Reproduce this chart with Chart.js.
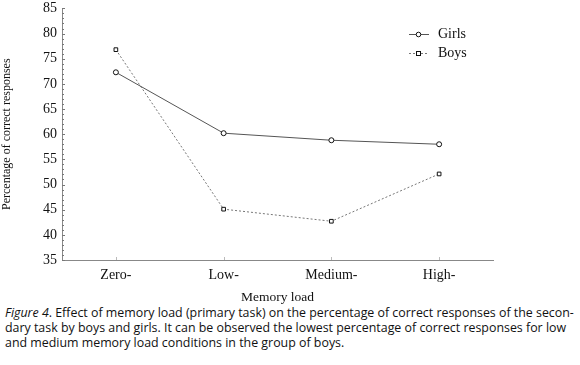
<!DOCTYPE html>
<html lang="en">
<head>
<meta charset="utf-8"/>
<title>Memory load chart</title>
<script src="https://cdn.jsdelivr.net/npm/chart.js"></script>
<style>
  body { margin: 0; background: #fff; }
  .wrap { position: relative; width: 580px; height: 311px; margin-top: -5px; }
  .caption {
    margin: -1px 0 0 5px;
    font-family: 'Open Sans', sans-serif;
    font-size: 12.4px;
    line-height: 15px;
    color: #111;
    white-space: nowrap;
  }
</style>
</head>
<body>
<div class="wrap"><canvas id="chart" width="580" height="311"></canvas></div>
<div class="caption">
  <i>Figure 4</i>. Effect of memory load (primary task) on the percentage of correct responses of the secon-<br/>
  dary task by boys and girls. It can be observed the lowest percentage of correct responses for low<br/>
  and medium memory load conditions in the group of boys.
</div>
<script>
  const loads = ["Zero-", "Low-", "Medium-", "High-"];
  const girls = [72.3, 60.2, 58.8, 58.0];
  const boys = [76.8, 45.1, 42.7, 52.1];
  const yTicks = [35, 40, 45, 50, 55, 60, 65, 70, 75, 80, 85];

  const serif = "Liberation Serif";
  Chart.defaults.font.family = serif;
  Chart.defaults.color = "#111";

  // inward tick marks on both axes + legend in the top right corner
  const decor = {
    id: "decor",
    afterDraw(chart) {
      const c = chart.ctx;
      const x = chart.scales.x, y = chart.scales.y;
      const area = chart.chartArea;
      c.save();
      c.strokeStyle = "#777";
      c.lineWidth = 1;
      for (let v = yTicks[0]; v <= yTicks[yTicks.length - 1]; v++) {
        const py = Math.round(y.getPixelForValue(v)) + 0.5;
        const len = v % 5 === 0 ? 3 : 2;
        c.beginPath();
        c.moveTo(area.left, py);
        c.lineTo(area.left + len, py);
        c.stroke();
      }
      c.strokeStyle = "#bbb";
      loads.forEach((_, i) => {
        const px = Math.round(x.getPixelForValue(i)) + 0.5;
        c.beginPath();
        c.moveTo(px, area.bottom);
        c.lineTo(px, area.bottom - 3);
        c.stroke();
      });

      // legend (canvas is shifted up 5px on the page)
      const items = [
        { label: "Girls", ds: chart.data.datasets[0], y: 39 },
        { label: "Boys", ds: chart.data.datasets[1], y: 58 }
      ];
      items.forEach(it => {
        c.strokeStyle = it.ds.borderColor;
        c.setLineDash(it.ds.borderDash || []);
        c.beginPath();
        c.moveTo(409, it.y + 0.5);
        c.lineTo(429, it.y + 0.5);
        c.stroke();
        c.setLineDash([]);
        c.strokeStyle = "#111";
        c.fillStyle = "#fff";
        if (it.ds.pointStyle === "rect") {
          c.fillRect(416, it.y - 2, 5, 5);
          c.strokeRect(416.5, it.y - 2 + 0.5, 4, 4);
        } else {
          c.beginPath();
          c.arc(418.5, it.y + 0.5, 2.3, 0, Math.PI * 2);
          c.fill();
          c.stroke();
        }
        c.fillStyle = "#111";
        c.font = "14px " + serif;
        c.textBaseline = "middle";
        c.fillText(it.label, 438, it.y);
      });
      c.restore();
    }
  };

  new Chart(document.getElementById("chart"), {
    type: "line",
    data: {
      labels: loads,
      datasets: [
        {
          label: "Girls",
          data: girls,
          borderColor: "#555",
          borderWidth: 1,
          pointStyle: "circle",
          pointRadius: 2.5,
          pointBorderWidth: 1,
          pointBorderColor: "#111",
          pointBackgroundColor: "#fff",
          tension: 0
        },
        {
          label: "Boys",
          data: boys,
          borderColor: "#777",
          borderWidth: 1,
          borderDash: [2, 2],
          pointStyle: "rect",
          pointRadius: 2.6,
          pointBorderWidth: 1,
          pointBorderColor: "#111",
          pointBackgroundColor: "#fff",
          tension: 0
        }
      ]
    },
    options: {
      responsive: false,
      animation: false,
      layout: { padding: { top: 0, right: 87, left: 0, bottom: 0 } },
      plugins: { legend: { display: false }, tooltip: { enabled: false } },
      scales: {
        x: {
          offset: true,
          grid: { display: false, drawTicks: false },
          border: { display: true, color: "#888", width: 1 },
          ticks: { color: "#111", font: { size: 14 }, padding: 7 },
          title: { display: true, text: "Memory load", color: "#111", font: { size: 13.5 }, padding: { top: 4, bottom: 0 } },
          afterFit: s => { s.height = 46; }
        },
        y: {
          min: 35,
          max: 85,
          grid: { display: false, drawTicks: false },
          border: { display: true, color: "#888", width: 1 },
          ticks: { stepSize: 5, color: "#111", font: { size: 14 }, padding: 5 },
          title: { display: true, text: "Percentage of correct responses", color: "#111", font: { size: 12 }, padding: { top: 0, bottom: 6 } },
          afterFit: s => { s.width = 62; }
        }
      }
    },
    plugins: [decor]
  });
</script>
</body>
</html>
